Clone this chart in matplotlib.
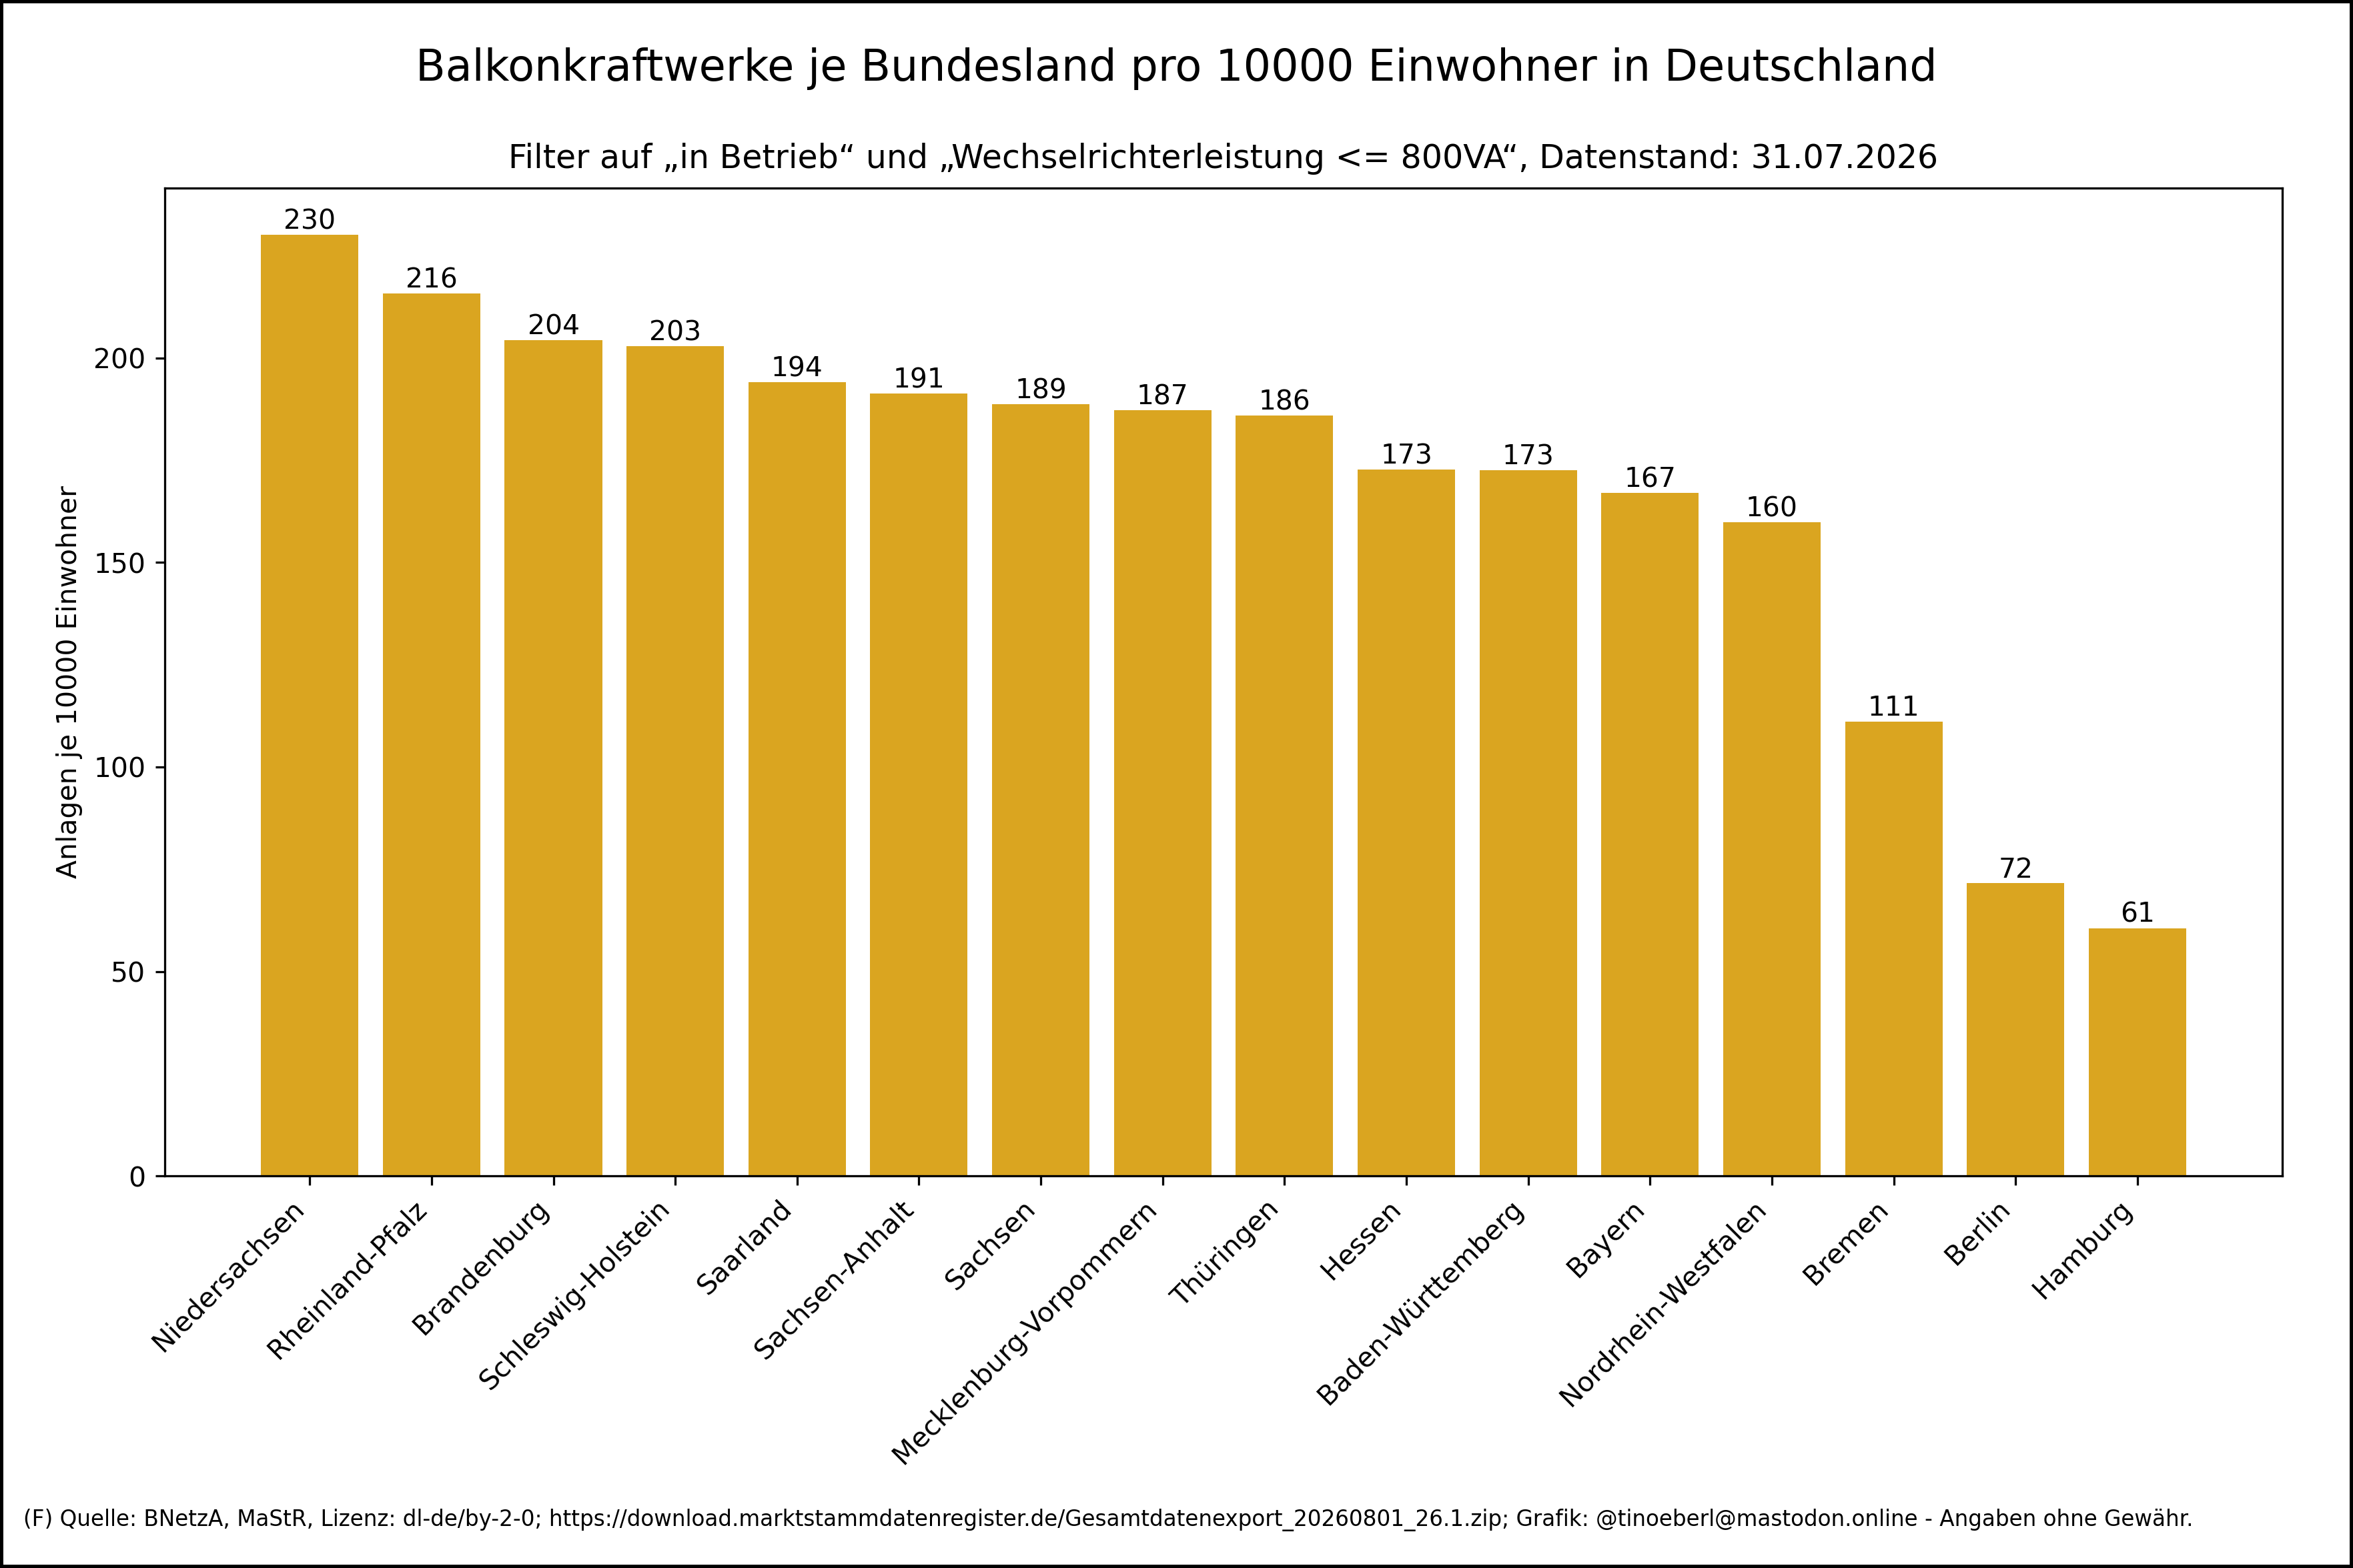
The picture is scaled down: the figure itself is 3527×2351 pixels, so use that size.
import matplotlib
matplotlib.use("Agg")
import matplotlib.pyplot as plt

# Bundeslaender, sortiert nach Anlagen je 10000 Einwohner
laender = [
    "Niedersachsen", "Rheinland-Pfalz", "Brandenburg", "Schleswig-Holstein",
    "Saarland", "Sachsen-Anhalt", "Sachsen", "Mecklenburg-Vorpommern",
    "Thüringen", "Hessen", "Baden-Württemberg", "Bayern",
    "Nordrhein-Westfalen", "Bremen", "Berlin", "Hamburg",
]
anlagen_je_10000 = [
    230.1, 215.8, 204.4, 202.9, 194.1, 191.3, 188.7, 187.2,
    186.0, 172.8, 172.6, 167.0, 159.8, 111.1, 71.6, 60.6,
]

titel = "Balkonkraftwerke je Bundesland pro 10000 Einwohner in Deutschland"
untertitel = "Filter auf \u201ein Betrieb\u201c und \u201eWechselrichterleistung <= 800VA\u201c, Datenstand: 31.07.2026"
quelle = ("(F) Quelle: BNetzA, MaStR, Lizenz: dl-de/by-2-0; "
          "https://download.marktstammdatenregister.de/Gesamtdatenexport_20260801_26.1.zip; "
          "Grafik: @tinoeberl@mastodon.online - Angaben ohne Gewähr.")

DPI = 3527 / 12

fig, ax = plt.subplots(figsize=(12, 8), dpi=DPI)
fig.patch.set_edgecolor("black")
fig.patch.set_linewidth(2)
fig.subplots_adjust(left=0.07, right=0.97, top=0.88, bottom=0.25)

bars = ax.bar(laender, anlagen_je_10000, color="goldenrod")
ax.bar_label(bars, fmt="%.0f")

fig.suptitle(titel, fontsize=16, y=0.97)
ax.set_title(untertitel, pad=7.5)
ax.set_ylabel("Anlagen je 10000 Einwohner")
plt.xticks(rotation=45, ha="right")

fig.text(0.01, 0.027, quelle, fontsize=8)

fig.savefig("out.png", dpi=DPI)
